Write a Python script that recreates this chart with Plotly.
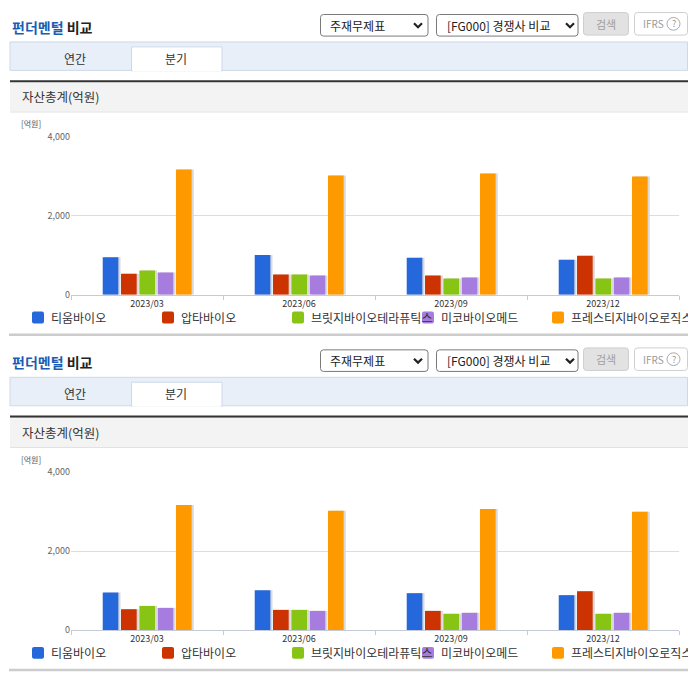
import plotly.graph_objects as go

# the browser page is 696x684; the figure sits inside the 8px body margin
PAGE_W, PAGE_H = 696, 684
OX, OY = 8, 8
W, H = PAGE_W - 2 * OX, PAGE_H - 2 * OY
PANEL_SHIFT = 342

quarters = ["2023/03", "2023/06", "2023/09", "2023/12"]
companies = ["티움바이오", "압타바이오", "브릿지바이오테라퓨틱스", "미코바이오메드", "프레스티지바이오로직스"]
colors = ["#2468dc", "#cc3300", "#88c414", "#a67ddf", "#ff9900"]

# 자산총계 (억원)
tium = [952, 1009, 935, 885]
apta = [529, 512, 487, 985]
bridge = [612, 512, 413, 413]
mico = [563, 487, 438, 438]
prestige = [3171, 3021, 3071, 2997]
series = [tium, apta, bridge, mico, prestige]

y_ticks = [0, 2000, 4000]

FONT = "Noto Sans CJK KR"

# bar geometry in category units (one category = 152px)
BAR_W = 0.103
STEP = 0.1205
START = -0.2914
SHADOW_DX = 0.014


def fx(x):
    # page pixel -> paper x
    return (x - OX) / W


def fy(y):
    # page pixel (from top) -> paper y
    return 1 - (y - OY) / H


def rect(x0, y0, x1, y1, fill, line=None, lw=1):
    return dict(type="rect", xref="paper", yref="paper",
                x0=fx(x0), x1=fx(x1), y0=fy(y0), y1=fy(y1),
                fillcolor=fill, line=dict(color=line or fill, width=lw if line else 0))


def rrect(x0, y0, x1, y1, fill, line=None, r=3, lw=1):
    def p(x, y):
        return "{:.5f},{:.5f}".format(fx(x), fy(y))
    path = ("M{} L{} Q{} {} L{} Q{} {} L{} Q{} {} L{} Q{} {} Z"
            .format(p(x0 + r, y0), p(x1 - r, y0), p(x1, y0), p(x1, y0 + r),
                    p(x1, y1 - r), p(x1, y1), p(x1 - r, y1), p(x0 + r, y1),
                    p(x0, y1), p(x0, y1 - r), p(x0, y0 + r), p(x0, y0), p(x0 + r, y0)))
    return dict(type="path", xref="paper", yref="paper", path=path,
                fillcolor=fill, line=dict(color=line or fill, width=lw if line else 0))


def chevron(x, y):
    path = "M{:.5f},{:.5f} L{:.5f},{:.5f} L{:.5f},{:.5f}".format(
        fx(x - 4), fy(y - 2), fx(x), fy(y + 2), fx(x + 4), fy(y - 2))
    return dict(type="path", xref="paper", yref="paper", path=path,
                line=dict(color="#222222", width=2.2))


def text(x, y, s, size=12, color="#333333", anchor="left"):
    return dict(xref="paper", yref="paper", x=fx(x), y=fy(y), text=s, showarrow=False,
                xanchor=anchor, yanchor="middle",
                font=dict(family=FONT, size=size, color=color))


fig = go.Figure()
shapes = []
annotations = []

for k in range(2):
    o = k * PANEL_SHIFT
    xa = "x" if k == 0 else "x2"
    ya = "y" if k == 0 else "y2"

    # bars: grey shadow first, then the coloured bar
    for i, vals in enumerate(series):
        fig.add_bar(x=quarters, y=vals, width=BAR_W, offset=START + i * STEP + SHADOW_DX,
                    marker=dict(color="#d9d9d9", line=dict(width=0)),
                    xaxis=xa, yaxis=ya, showlegend=False, hoverinfo="skip")
    for i, vals in enumerate(series):
        fig.add_bar(x=quarters, y=vals, width=BAR_W, offset=START + i * STEP,
                    marker=dict(color=colors[i], line=dict(width=0)), name=companies[i],
                    xaxis=xa, yaxis=ya, showlegend=False)

    # header: title, selects, buttons
    annotations.append(text(10, o + 20,
                            "<b><span style='color:#1b5cb3'>펀더멘털</span> 비교</b>",
                            size=14, color="#222222"))
    shapes.append(rrect(320.5, o + 7.5, 428, o + 29.5, "white", "#7a7a7a"))
    annotations.append(text(328, o + 18.5, "주재무제표", size=12, color="#222222"))
    shapes.append(chevron(418, o + 18.5))
    shapes.append(rrect(436.5, o + 7.5, 578, o + 29.5, "white", "#7a7a7a"))
    annotations.append(text(445, o + 18.5, "[FG000] 경쟁사 비교", size=12, color="#222222"))
    shapes.append(chevron(570, o + 18.5))
    shapes.append(rrect(583.5, o + 5.5, 628.5, o + 28.5, "#e2e2e2", "#cfcfcf"))
    annotations.append(text(606, o + 17, "검색", size=11, color="#a0a0a0", anchor="center"))
    shapes.append(rrect(634.5, o + 5.5, 687.5, o + 28.5, "white", "#cfcfcf"))
    annotations.append(text(641, o + 17, "IFRS", size=10, color="#999999"))
    shapes.append(dict(type="circle", xref="paper", yref="paper",
                       x0=fx(667), x1=fx(680), y0=fy(o + 10.5), y1=fy(o + 23.5),
                       line=dict(color="#aaaaaa", width=1)))
    annotations.append(text(673.5, o + 17, "?", size=9, color="#999999", anchor="center"))

    # tabs
    shapes.append(rect(10, o + 35.5, 687.5, o + 64.5, "#e8eff8", "#cdd9e8"))
    shapes.append(rect(131.5, o + 40.5, 222, o + 65, "white", "#cdd9e8"))
    shapes.append(rect(132.5, o + 63.5, 221, o + 65.5, "white"))
    annotations.append(text(75, o + 52, "연간", size=12, color="#333333", anchor="center"))
    annotations.append(text(176, o + 52, "분기", size=12, color="#333333", anchor="center"))

    # section header
    shapes.append(rect(10, o + 74.5, 688, o + 76.8, "#333333"))
    shapes.append(rect(10, o + 76.8, 688, o + 106.5, "#f3f3f3"))
    shapes.append(rect(10, o + 106.5, 688, o + 107.5, "#e2e2e2"))
    annotations.append(text(20, o + 91.5, "자산총계(억원)", size=12.5, color="#333333"))
    annotations.append(text(19, o + 119, "[억원]", size=8, color="#555555"))

    # legend row
    for i, name in enumerate(companies):
        shapes.append(rrect(32 + 130 * i, o + 310.5, 44 + 130 * i, o + 322.5, colors[i], r=2))
        annotations.append(text(49 + 130 * i, o + 316.5, name, size=12, color="#333333"))

    # bottom rule
    shapes.append(rect(9, o + 332.8, 688, o + 335.3, "#cccccc"))

axis_x = dict(type="category", range=[-0.5, 3.5], showline=True, linecolor="#c4cad6",
              ticks="outside", ticklen=4, tickcolor="#c4cad6", tickson="boundaries",
              showgrid=False, tickfont=dict(family=FONT, size=9, color="#333333"),
              domain=[fx(71), fx(679)], fixedrange=True)
axis_y = dict(range=[0, 4000], tickvals=y_ticks, tickformat=",", showgrid=True,
              gridcolor="#dddddd", zeroline=False, showline=False, ticks="",
              tickfont=dict(family=FONT, size=9, color="#666666"), fixedrange=True)

fig.update_layout(
    width=W, height=H,
    margin=dict(l=0, r=0, t=0, b=0),
    paper_bgcolor="white",
    plot_bgcolor="rgba(0,0,0,0)",
    barmode="overlay",
    showlegend=False,
    font=dict(family=FONT),
    xaxis=dict(axis_x, anchor="y"),
    yaxis=dict(axis_y, anchor="x", domain=[fy(293.3), fy(132.3)]),
    xaxis2=dict(axis_x, anchor="y2"),
    yaxis2=dict(axis_y, anchor="x2", domain=[fy(PANEL_SHIFT + 293.3), fy(PANEL_SHIFT + 132.3)]),
    shapes=shapes,
    annotations=annotations,
)

fig.write_html("out.html")
